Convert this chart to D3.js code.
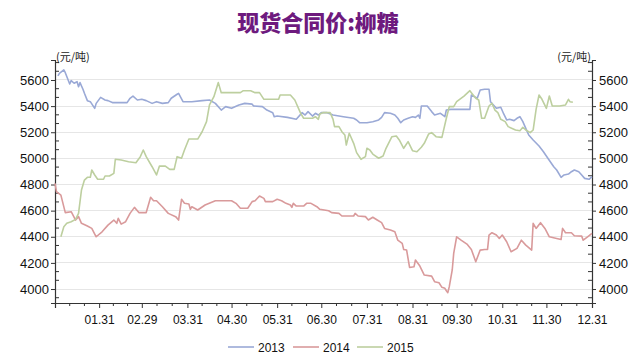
<!DOCTYPE html>
<html><head><meta charset="utf-8">
<script src="https://cdn.jsdelivr.net/npm/d3@7/dist/d3.min.js"></script>
<style>
html,body{margin:0;padding:0;background:#fff;}
svg{display:block;font-family:"Liberation Sans","DejaVu Sans",sans-serif;}
</style></head>
<body>
<svg id="c" width="643" height="360"></svg>
<script>
// ---- data ----
const title = "现货合同价:柳糖";
const unitLabel = "(元/吨)";
const seriesNames = ["2013", "2014", "2015"];
const xTickLabels = ["01.31","02.29","03.31","04.30","05.31","06.30","07.31","08.31","09.30","10.31","11.30","12.31"];
const yTickValues = [4000,4200,4400,4600,4800,5000,5200,5400,5600];

// day index from Jan 1 and value (元/吨)
const days2013 = [2,3,6,7,10,11,13,15,16,17,19,20,22,24,27,28,31,34,36,39,45,49,51,53,56,59,62,66,69,73,77,79,83,84,87,93,100,105,109,113,116,120,125,129,134,135,141,144,148,149,151,158,164,168,170,172,175,177,179,181,185,189,196,203,205,207,212,216,220,222,224,228,231,233,235,237,240,243,245,247,248,249,253,256,258,262,265,266,269,282,283,287,289,292,295,296,298,300,303,305,307,309,312,314,316,318,320,322,325,329,332,335,339,341,344,346,349,351,353,356,358,360,363,365];
const vals2013 = [5631,5651,5677,5656,5569,5595,5575,5587,5549,5580,5529,5498,5442,5434,5383,5421,5467,5447,5442,5427,5427,5427,5460,5477,5447,5452,5442,5421,5434,5421,5427,5460,5491,5498,5434,5434,5442,5447,5421,5370,5396,5383,5409,5421,5415,5401,5396,5370,5350,5319,5324,5314,5299,5350,5332,5358,5324,5345,5332,5350,5350,5332,5319,5307,5294,5273,5273,5281,5294,5314,5350,5345,5332,5307,5273,5294,5307,5319,5314,5332,5307,5401,5401,5358,5332,5345,5319,5370,5375,5375,5485,5460,5523,5529,5529,5434,5409,5383,5391,5340,5294,5299,5289,5307,5319,5281,5230,5179,5141,5095,5051,5001,4936,4911,4855,4873,4880,4898,4911,4898,4873,4847,4840,4860];

const days2014 = [0,1,4,7,11,14,16,18,22,25,27,28,32,36,40,42,43,45,48,51,54,57,62,65,67,69,73,77,82,84,86,88,91,92,93,97,102,109,116,120,123,126,131,134,136,139,142,143,148,151,154,157,160,161,162,164,169,171,174,178,180,186,188,193,195,203,204,206,211,213,216,219,222,224,228,231,233,236,237,239,241,244,245,248,251,256,258,261,263,265,266,267,268,270,271,273,276,280,283,286,289,292,294,295,297,300,302,304,307,310,314,317,320,324,325,327,330,333,336,341,344,345,347,351,353,358,359,362,365];
const vals2014 = [4809,4745,4719,4585,4592,4528,4554,4503,4482,4464,4421,4400,4438,4489,4528,4503,4541,4497,4515,4579,4625,4585,4585,4702,4676,4676,4630,4579,4554,4528,4687,4656,4651,4610,4630,4605,4643,4676,4676,4676,4656,4618,4618,4669,4676,4712,4694,4669,4669,4687,4676,4656,4643,4625,4656,4635,4635,4656,4656,4630,4610,4599,4585,4579,4559,4559,4579,4559,4554,4528,4549,4528,4508,4464,4451,4438,4374,4349,4303,4298,4165,4170,4222,4176,4107,4099,4056,4048,4013,4005,3987,3972,4018,4146,4273,4400,4374,4344,4303,4209,4298,4303,4303,4413,4431,4413,4387,4413,4362,4285,4311,4374,4336,4298,4503,4464,4508,4464,4400,4387,4379,4464,4431,4431,4408,4405,4374,4400,4426];

const days2015 = [4,6,8,11,14,16,18,20,22,24,25,27,29,33,34,37,40,41,45,50,55,58,60,62,66,69,71,75,78,81,83,86,88,91,97,100,103,105,108,111,113,120,126,128,133,136,139,142,152,153,160,163,167,169,175,177,179,180,182,187,189,190,193,195,197,198,200,203,205,208,211,212,214,216,220,223,225,229,232,234,237,240,243,246,249,251,254,256,259,263,266,268,271,273,278,282,283,286,288,290,292,295,297,299,301,303,306,308,313,316,318,320,323,325,327,329,331,334,336,338,343,347,349,350,352];
const vals2015 = [4400,4477,4503,4515,4533,4579,4758,4834,4855,4855,4911,4873,4840,4840,4865,4865,4885,4993,4987,4974,4967,5013,5064,5013,4936,4873,4941,4941,4916,4916,5013,5001,5064,5148,5148,5204,5281,5409,5472,5580,5503,5503,5503,5518,5518,5503,5503,5452,5452,5485,5485,5447,5345,5307,5307,5319,5299,5340,5350,5350,5299,5243,5243,5204,5179,5102,5192,5115,5044,4993,5013,5077,5064,5033,5001,5018,5077,5166,5171,5141,5077,5128,5059,5051,5085,5115,5187,5197,5166,5161,5307,5396,5396,5434,5477,5518,5503,5460,5447,5307,5307,5401,5421,5370,5350,5299,5281,5243,5217,5212,5238,5217,5197,5217,5375,5485,5452,5383,5477,5401,5401,5409,5452,5434,5429];

const colors = ["#9aa9d6", "#d99a9b", "#bdcf9f"];

// ---- chart ----
(function () {
const svg = d3.select("#c");
const mL = 55, mR = 592, mT = 60, mB = 303;
const base = new Date(2016, 0, 1);
const toDate = d => d3.timeDay.offset(base, d);

const x = d3.scaleTime().domain([base, new Date(2016, 11, 31)]).range([mL, mR]);
const y = d3.scaleLinear().domain([3893, 5753]).range([mB, mT]);

// title
svg.append("text").attr("x", 318).attr("y", 31).attr("text-anchor", "middle")
  .attr("font-family", "'Noto Sans CJK SC', sans-serif").attr("font-weight", "900")
  .attr("font-size", 22).attr("fill", "#6e1a7e").text(title);

// grid
svg.append("g").selectAll("line").data(yTickValues).join("line")
  .attr("x1", mL).attr("x2", mR).attr("y1", d => y(d)).attr("y2", d => y(d))
  .attr("stroke", "#e6e6e6").attr("stroke-width", 1).attr("shape-rendering", "crispEdges");

// minor y ticks
const minorY = [];
for (let v = 4000 - 200/3; v < 5753; v += 200/3) {
  const r = Math.round(v);
  if (v >= 3893 && yTickValues.indexOf(r) < 0) minorY.push(v);
}

// y axes
const yLeft = d3.axisLeft(y).tickValues(yTickValues).tickSize(4).tickPadding(2).tickFormat(d3.format("d"));
const gL = svg.append("g").attr("transform", `translate(${mL},0)`).call(yLeft);
const yRight = d3.axisRight(y).tickValues(yTickValues).tickSize(4).tickPadding(3).tickFormat(d3.format("d"));
const gR = svg.append("g").attr("transform", `translate(${mR},0)`).call(yRight);
[gL, gR].forEach(g => {
  g.select(".domain").attr("stroke", "#333").attr("stroke-width", 1.2);
  g.selectAll(".tick line").attr("stroke", "#333");
  g.selectAll(".tick text").attr("font-size", 13).attr("fill", "#111");
});
svg.append("g").selectAll("line").data(minorY).join("line")
  .attr("x1", mL).attr("x2", mL + 4).attr("y1", d => y(d)).attr("y2", d => y(d)).attr("stroke", "#333");
svg.append("g").selectAll("line").data(minorY).join("line")
  .attr("x1", mR - 4).attr("x2", mR).attr("y1", d => y(d)).attr("y2", d => y(d)).attr("stroke", "#333");

// x axis
const monthEnds = xTickLabels.map(s => new Date(2016, +s.slice(0, 2) - 1, +s.slice(3)));
const xAxis = d3.axisBottom(x).tickValues(monthEnds).tickSize(5).tickPadding(7)
  .tickFormat((d, i) => xTickLabels[i]);
const gX = svg.append("g").attr("transform", `translate(0,${mB})`).call(xAxis);
gX.select(".domain").attr("stroke", "#333").attr("stroke-width", 1.2);
gX.selectAll(".tick line").attr("stroke", "#333");
gX.selectAll(".tick text").attr("font-size", 12).attr("fill", "#111");
const minorX = [];
let prev = base;
monthEnds.forEach(m => {
  const a = x(prev), b = x(m);
  minorX.push(a + (b - a) / 3, a + 2 * (b - a) / 3);
  prev = m;
});
svg.append("g").selectAll("line").data(minorX).join("line")
  .attr("x1", d => d).attr("x2", d => d).attr("y1", mB).attr("y2", mB + 3).attr("stroke", "#333");

// unit labels
svg.append("text").attr("x", mL + 1).attr("y", 61).attr("font-size", 11)
  .attr("font-family", "'Noto Sans CJK SC', sans-serif").attr("fill", "#222").text(unitLabel);
svg.append("text").attr("x", mR - 1).attr("y", 61).attr("font-size", 11).attr("text-anchor", "end")
  .attr("font-family", "'Noto Sans CJK SC', sans-serif").attr("fill", "#222").text(unitLabel);

// lines
const line = d3.line().x(d => x(toDate(d[0]))).y(d => y(d[1]));
const series = [
  d3.zip(days2013, vals2013),
  d3.zip(days2014, vals2014),
  d3.zip(days2015, vals2015)
];
series.forEach((s, i) => {
  svg.append("path").datum(s).attr("d", line).attr("fill", "none")
    .attr("stroke", colors[i]).attr("stroke-width", 1.6).attr("stroke-linejoin", "round");
});

// legend
const legX = [228, 293, 357];
seriesNames.forEach((n, i) => {
  const g = svg.append("g").attr("transform", `translate(${legX[i]},347)`);
  g.append("line").attr("x1", 0).attr("x2", 26).attr("stroke", colors[i]).attr("stroke-width", 1.6);
  g.append("text").attr("x", 30).attr("y", 4.5).attr("font-size", 12).attr("fill", "#111").text(n);
});
})();
</script>
</body></html>
